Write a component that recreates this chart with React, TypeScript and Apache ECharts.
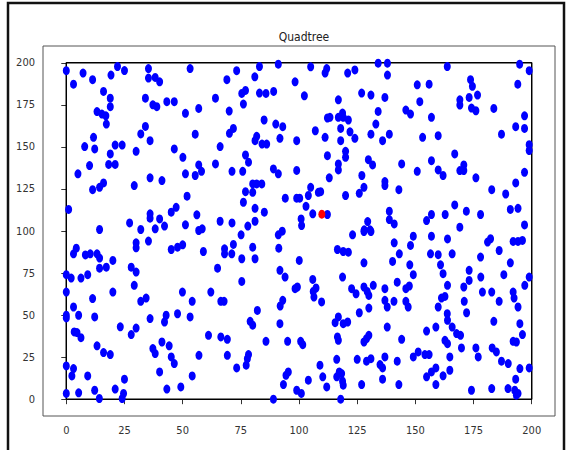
import { useEffect, useRef } from "react";
import * as echarts from "echarts";

const chartTitle = "Quadtree";
const xTicks = [0, 25, 50, 75, 100, 125, 150, 175, 200];
const yTicks = [0, 25, 50, 75, 100, 125, 150, 175, 200];
const boundary = [[0, 0], [200, 0], [200, 200], [0, 200], [0, 0]];
const queryPoints = [[109.8, 110]];

const pointsTopLeft = [
  [0, 195.3], [3.1, 187.3], [7.2, 193.9], [11.3, 190], [16, 183], [18.9, 179], [18.9, 173.9], [19.2, 192.7], [22, 197.8], [25, 195.4],
  [13.2, 171], [15.3, 169.5], [17, 168.5], [17.2, 163.6], [35.3, 196.6], [35.3, 190.9], [38.2, 191.3], [40.1, 188.7], [34, 179], [37.2, 175],
  [38.9, 173.9], [43.2, 176.9], [46.4, 176.9], [53.2, 196.6], [51.2, 170], [56.9, 172.9], [64.1, 179], [69, 190], [73.2, 195.3], [75.4, 181.8],
  [77, 183.6], [76.1, 175.5], [70, 171.3], [81, 191.7], [83, 197.8], [83, 182], [85.8, 181.8], [89.1, 183], [91.1, 199.2], [98.3, 188.7], [102.3, 180.4],
  [85, 166], [90, 163.6], [93, 162], [91.8, 155.1], [99, 153.7], [81.8, 156.3], [81.1, 153.7], [84.1, 151.7], [86.1, 151.7], [71.8, 161],
  [70.1, 158.1], [66.1, 150.2], [77, 145.2], [78.3, 140.9], [89, 136.9], [91.1, 134], [99, 136], [75.8, 135.5], [71.2, 135.5], [64.1, 139.9],
  [51.2, 134], [55.4, 133], [56.9, 139.3], [58.1, 135.5], [50.1, 143.8], [46.4, 148.8], [55.4, 157.6], [34, 162.2], [32, 157.7], [36, 153.7],
  [30, 147.4], [24, 151.1], [21, 151.1], [18.9, 145.8], [18.2, 139.6], [21, 139.6], [11.7, 155.7], [12.2, 148.8], [7.9, 150.2], [10, 138.9],
  [5, 134], [11.3, 124.6], [14.3, 126], [16, 128.6], [29.2, 127], [36, 131.6], [41.1, 130], [51.9, 120.7], [80.1, 128], [81.8, 128],
  [84, 128], [77, 123.4], [80.1, 123], [76.1, 117.1], [81.1, 113.5], [85.1, 111.2], [94.1, 119.5], [99, 119.5], [100.3, 119.5], [100.9, 107.2],
  [101.1, 103.2], [92.8, 99.9], [1, 112.8], [14.3, 100.9], [27.2, 104.8], [32, 100.9], [36, 110.2], [36, 107.6], [38.2, 101.3], [40.1, 107.2],
  [42.2, 102.9], [45.1, 111.2], [47.2, 114.1], [51.2, 103.7], [56.1, 109.6], [56.9, 100.3], [58.4, 101.3], [66.1, 105.8], [71.2, 104.8], [78, 102.9],
  [81.1, 105.8],
];

const pointsTopRight = [
  [105, 197.6], [111.2, 193.9], [111.9, 196.6], [120.9, 193.9], [124, 195.8], [134, 199.8], [138, 199.8], [138, 192.7], [163.7, 197.8], [194.8, 199.2],
  [198.9, 195.3], [116.9, 178], [126.9, 182], [130.9, 180.8], [136.9, 179.4], [150.8, 186.9], [155.9, 187.3], [151.9, 176.9], [173.7, 190], [174.5, 186],
  [173.1, 179.4], [176.7, 180.8], [169.1, 178], [169.1, 174.9], [174.1, 173.1], [176, 171.5], [183.7, 172.9], [194, 187.3], [196.9, 168.5], [193.1, 162],
  [196.9, 161], [187, 157.6], [198.9, 151.3], [198.9, 147.8], [112.2, 167.2], [113.3, 167.6], [116.9, 167.6], [118.7, 170.1], [119, 167.6], [121.2, 166],
  [134, 171.1], [145.9, 171.9], [147.9, 169.5], [156.9, 167.6], [133, 163.6], [107, 159.6], [117.9, 161], [121.9, 159], [124, 155.1], [130.9, 157.6],
  [138.8, 157.6], [135.9, 153.7], [111.2, 155.7], [117.9, 153.7], [153.1, 155.7], [159.8, 156.7], [120, 147.4], [120, 143.8], [112.2, 144.8], [116.9, 139.9],
  [116.9, 136.3], [129.8, 142.4], [131.6, 139.3], [144.1, 139.9], [150.8, 135.5], [156.9, 141.8], [159.8, 136.3], [161.9, 133], [166.9, 145.8], [169.1, 135.9],
  [170.8, 139.3], [170.8, 135.9], [176, 131.6], [196.9, 134.9], [193.1, 128.6], [182.8, 124.6], [188.8, 122], [190.8, 112.8], [194.1, 113.5], [196.9, 103.6],
  [113, 131.6], [127, 133], [136.9, 129.4], [136.9, 127], [142.9, 124.6], [127.9, 126], [125.9, 122.4], [120, 121.1], [105, 126], [108.3, 123],
  [109.3, 123.4], [104, 121.1], [103, 114.7], [105.9, 110.2], [112.2, 109.8], [166.9, 115.5], [162.8, 109.8], [156.9, 109.8], [154.8, 106.2], [171.9, 111.8],
  [178, 109.8], [138.8, 111.8], [138.8, 106.8], [140.9, 104.2], [129.5, 105.6], [130.5, 100.7], [128, 100.7], [169.1, 102.3],
];

const pointsBottomLeft = [
  [75.1, 97.7], [91.1, 97.7], [3.1, 86.4], [4.3, 89.8], [8.2, 85.8], [10.3, 86.4], [13.2, 86.4], [14.3, 83.9], [20, 82.5], [17.2, 78.5],
  [14.3, 77.9], [0, 74], [2.1, 72], [6.3, 72], [9.2, 74], [0, 63.7], [20, 63.7], [11.3, 59.8], [3.1, 54.8], [0, 49.9],
  [0, 48.3], [5.3, 49.9], [12.2, 48.9], [3.4, 40], [4.6, 39.6], [6.3, 36.6], [13.2, 31.7], [16, 27.7], [18.9, 26.5], [23.2, 43],
  [27.9, 38.4], [30, 42.3], [36, 47.9], [0, 19.8], [3.1, 18.2], [2.4, 13.8], [9.2, 13.8], [0, 3.4], [5.3, 3.8], [12.2, 5.3],
  [14.2, 0.4], [21, 6], [25, 11.9], [24.6, 3.4], [24, 0.4], [30, 93], [30, 90], [35.3, 94], [45.1, 89], [47.8, 90.4],
  [50, 91.8], [58.9, 87.8], [27.9, 78.5], [30, 75.6], [29.2, 67.7], [32, 58.2], [34.3, 60.1], [49.9, 63.7], [54.1, 58.2], [62.1, 63.7],
  [66.4, 58.2], [67.8, 58.2], [65, 77.9], [68, 89.4], [68, 86.4], [71.1, 86.4], [71.8, 92], [75.4, 83.5], [80.1, 90.4], [81.1, 83.5],
  [75.4, 70], [91.3, 89.8], [100.1, 82.5], [91.8, 76.6], [94, 72.6], [99.3, 66.7], [98.3, 65.7], [93, 58.8], [91.9, 55.4], [91.8, 44.9],
  [82.1, 52.8], [79, 46.3], [80.1, 44], [85.8, 34.4], [95.1, 34.4], [100.7, 34.4], [101.6, 32.4], [42.9, 49.9], [42.2, 45.9], [47.8, 50.8],
  [53.2, 48.9], [61.1, 38], [66.4, 37], [69.2, 35.6], [37.2, 30.1], [38.2, 27.1], [41.1, 34], [44.2, 31.7], [45.1, 25.1], [46.4, 21.2],
  [40.1, 16.2], [43.2, 6], [49.2, 7.3], [54.1, 13.8], [57, 26.1], [69.2, 26.1], [73.2, 18.6], [77.3, 20.2], [77.8, 24.1], [78.3, 26.5],
  [89, 0], [93.3, 8.7], [94.4, 14.2], [95.4, 16.2], [99, 5.3], [101, 3.4],
];

const pointsBottomRight = [
  [123, 97.7], [127.9, 99.7], [130.9, 99.7], [149.1, 96.9], [147.9, 91.4], [156.9, 96.9], [163.8, 95.3], [140.9, 93], [143.1, 86.4], [140.2, 81.9],
  [116.5, 89], [119, 87.8], [121.2, 87.4], [127.9, 81.1], [118.7, 72.6], [105.9, 71.2], [107.3, 66.1], [106.1, 64.1], [106.4, 60.7], [109.7, 57.8],
  [122.6, 65.7], [124.5, 62.7], [127.9, 66.7], [129.3, 64.1], [130, 61.7], [131.9, 67.7], [125.9, 51.4], [130, 54.2], [136.9, 65.7], [136.9, 58.8],
  [137.9, 54.8], [140.8, 58.2], [142.2, 69.6], [145.9, 65.7], [145.9, 58.2], [146.9, 54.8], [147.4, 67.3], [147.6, 79.9], [149.1, 74], [156.5, 86.4],
  [159.8, 85.9], [165.8, 86.4], [160.8, 79.9], [161.9, 74.6], [163.8, 67.7], [161.2, 60.1], [162.7, 61.1], [159.8, 54.8], [163.7, 50.8], [163.8, 46.9],
  [165.8, 42.9], [167.7, 39], [169.4, 38], [169.8, 30.5], [162.7, 35], [163.8, 33], [158.8, 42.9], [154.8, 40.5], [170.8, 66.7], [171, 58.2],
  [172, 51.4], [173.1, 76.6], [173.1, 70.6], [178, 84.5], [178.1, 72.6], [178.8, 63.7], [182.8, 63.7], [186, 58.2], [183.7, 46.3], [186, 88.4],
  [190.8, 81.1], [188, 74], [198.9, 72.6], [197, 67.7], [192, 63.7], [192.4, 60.1], [194.1, 54.8], [194.9, 44.9], [196, 38.4], [192, 34.4],
  [193.4, 34], [181, 93.4], [182.3, 95.4], [192, 93.8], [194.1, 93.8], [196, 94.4], [115.5, 45.5], [116.9, 48.9], [119, 44.9], [120.9, 45.9],
  [116.5, 37], [116.9, 35], [127.9, 34], [129, 36], [130, 38], [137.9, 42.9], [144.1, 35.6], [116.2, 23.7], [125, 23.7], [129, 22.6],
  [130.9, 24.1], [134.8, 20.6], [135.9, 18.6], [136.9, 25.1], [142.2, 22.6], [149.1, 25.1], [151.2, 28.1], [154.1, 26.5], [155.9, 26.5], [109, 20.2],
  [110.2, 13.3], [111.9, 7.3], [116.2, 13.3], [117.3, 16.2], [118.3, 15.2], [118.7, 10.7], [119, 8.3], [117.9, 0], [126.9, 8.7], [135.9, 11.9],
  [142.9, 8.7], [104, 11.3], [154.8, 13.3], [156.9, 16.2], [158.8, 18.6], [158.8, 8.7], [161.9, 13.9], [164.8, 17.2], [164.8, 25.1], [176, 30.5],
  [177, 25.1], [183, 30.5], [184.8, 28.1], [187, 22.6], [189.9, 21.2], [194.9, 18.2], [198.9, 18.6], [193.1, 11.9], [174.1, 5.3], [182.8, 6.3],
  [189.8, 6.3], [192.7, 5.3], [194.1, 3.4], [193.4, 2.4],
];

const FONT = "'DejaVu Sans Condensed', 'DejaVu Sans', sans-serif";

export default function App() {
  const ref = useRef<HTMLDivElement>(null);

  useEffect(() => {
    const chart = echarts.init(ref.current!, null, { renderer: "svg" });
    const axisCommon = (ticks: number[]) => ({
      type: "value" as const,
      min: -10,
      max: 210,
      axisLine: { show: false },
      splitLine: { show: false },
      axisTick: {
        show: true,
        inside: false,
        length: 5,
        lineStyle: { color: "#333", width: 1 },
        customValues: ticks,
      },
      axisLabel: {
        customValues: ticks,
        color: "#333",
        fontSize: 11,
        fontFamily: FONT,
        margin: 8,
        formatter: (v: number) => String(v),
      },
    });
    chart.setOption({
      animation: false,
      backgroundColor: "#ffffff",
      title: {
        text: chartTitle,
        left: 299,
        top: 26,
        textAlign: "center",
        textStyle: { fontSize: 12, fontWeight: "normal", color: "#222", fontFamily: FONT },
      },
      grid: {
        left: 43,
        top: 46,
        width: 512,
        height: 370,
        show: true,
        borderColor: "#555",
        borderWidth: 1,
        backgroundColor: "transparent",
      },
      xAxis: { ...axisCommon(xTicks), axisLabel: { ...axisCommon(xTicks).axisLabel, margin: 9 } },
      yAxis: axisCommon(yTicks),
      series: [
        {
          type: "line",
          data: boundary,
          showSymbol: false,
          symbol: "none",
          lineStyle: { color: "#000", width: 1.5 },
          z: 1,
          silent: true,
        },
        {
          type: "scatter",
          data: [...pointsTopLeft, ...pointsTopRight, ...pointsBottomLeft, ...pointsBottomRight],
          symbol: "circle",
          symbolSize: [7, 9],
          itemStyle: { color: "#0000ff", opacity: 1 },
          z: 2,
          silent: true,
        },
        {
          type: "scatter",
          data: queryPoints,
          symbol: "circle",
          symbolSize: [7, 9],
          itemStyle: { color: "#ff0000", opacity: 1 },
          z: 3,
          silent: true,
        },
      ],
      graphic: [
        {
          type: "rect",
          shape: { x: 8, y: 3, width: 556, height: 470 },
          style: { fill: "none", stroke: "#111", lineWidth: 2.5 },
          silent: true,
          z: 10,
        },
      ],
    });
    return () => chart.dispose();
  }, []);

  return (
    <div
      ref={ref}
      style={{ position: "absolute", left: 0, top: 0, width: 566, height: 450, background: "#fff" }}
    />
  );
}
